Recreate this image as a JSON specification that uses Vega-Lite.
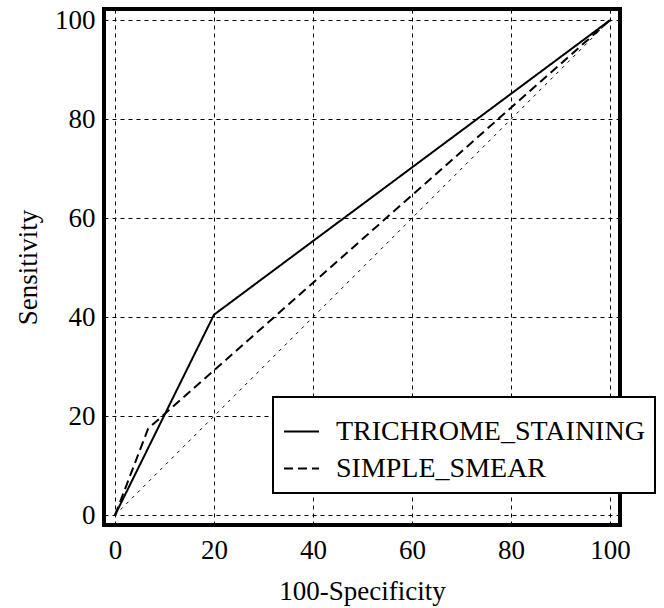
{
  "$schema": "https://vega.github.io/schema/vega-lite/v6.json",
  "width": 516,
  "height": 516,
  "autosize": {"type": "none"},
  "padding": {"left": 104, "top": 9, "right": 44, "bottom": 83},
  "background": "white",
  "config": {
    "view": {"stroke": "black", "strokeWidth": 4},
    "font": "Liberation Serif",
    "axis": {
      "labelFont": "Liberation Serif",
      "titleFont": "Liberation Serif",
      "labelFontSize": 27,
      "titleFontSize": 27,
      "titleFontWeight": "normal",
      "labelColor": "black",
      "titleColor": "black",
      "domain": false,
      "ticks": false,
      "gridColor": "black",
      "gridWidth": 1,
      "gridDash": [4, 4]
    },
    "legend": {
      "labelFont": "Liberation Serif",
      "labelFontSize": 28,
      "labelColor": "black",
      "labelLimit": 600
    }
  },
  "datasets": {
    "roc": [
      {"series": "TRICHROME_STAINING", "fpr": 0, "sens": 0},
      {"series": "TRICHROME_STAINING", "fpr": 20, "sens": 40.5},
      {"series": "TRICHROME_STAINING", "fpr": 100, "sens": 100},
      {"series": "SIMPLE_SMEAR", "fpr": 0, "sens": 0},
      {"series": "SIMPLE_SMEAR", "fpr": 6.7, "sens": 17.5},
      {"series": "SIMPLE_SMEAR", "fpr": 100, "sens": 100}
    ],
    "diag": [
      {"fpr": 0, "sens": 0},
      {"fpr": 100, "sens": 100}
    ],
    "major": [
      {"v": 0}, {"v": 20}, {"v": 40}, {"v": 60}, {"v": 80}, {"v": 100}
    ],
    "minor": [
      {"v": 5}, {"v": 10}, {"v": 15}, {"v": 25}, {"v": 30}, {"v": 35},
      {"v": 45}, {"v": 50}, {"v": 55}, {"v": 65}, {"v": 70}, {"v": 75},
      {"v": 85}, {"v": 90}, {"v": 95}
    ]
  },
  "encoding": {
    "x": {
      "field": "fpr", "type": "quantitative",
      "scale": {"domain": [-2.22, 102.02], "nice": false, "zero": false},
      "axis": {
        "title": "100-Specificity",
        "values": [0, 20, 40, 60, 80, 100],
        "labelPadding": 12,
        "titlePadding": 15,
        "labelOverlap": false,
        "labelFlush": false
      }
    },
    "y": {
      "field": "sens", "type": "quantitative",
      "scale": {"domain": [-1.98, 102.26], "nice": false, "zero": false},
      "axis": {
        "title": "Sensitivity",
        "values": [0, 20, 40, 60, 80, 100],
        "labelPadding": 9,
        "titlePadding": 12,
        "labelOverlap": false,
        "labelFlush": false
      }
    }
  },
  "layer": [
    {
      "data": {"name": "diag"},
      "mark": {"type": "line", "color": "black", "strokeWidth": 1, "strokeDash": [3, 5]},
      "encoding": {}
    },
    {
      "data": {"name": "major"},
      "mark": {"type": "rule", "color": "black", "strokeWidth": 2},
      "encoding": {
        "x": {"field": "v", "type": "quantitative", "title": "100-Specificity"},
        "y": {"datum": -1.98},
        "y2": {"datum": -0.36}
      }
    },
    {
      "data": {"name": "minor"},
      "mark": {"type": "rule", "color": "black", "strokeWidth": 2},
      "encoding": {
        "x": {"field": "v", "type": "quantitative", "title": "100-Specificity"},
        "y": {"datum": -1.98},
        "y2": {"datum": -1.17}
      }
    },
    {
      "data": {"name": "major"},
      "mark": {"type": "rule", "color": "black", "strokeWidth": 2},
      "encoding": {
        "y": {"field": "v", "type": "quantitative", "title": "Sensitivity"},
        "x": {"datum": -2.22},
        "x2": {"datum": -0.6}
      }
    },
    {
      "data": {"name": "minor"},
      "mark": {"type": "rule", "color": "black", "strokeWidth": 2},
      "encoding": {
        "y": {"field": "v", "type": "quantitative", "title": "Sensitivity"},
        "x": {"datum": -2.22},
        "x2": {"datum": -1.41}
      }
    },
    {
      "data": {"name": "roc"},
      "mark": {"type": "line", "color": "black", "strokeWidth": 2},
      "encoding": {
        "strokeDash": {
          "field": "series", "type": "nominal",
          "scale": {"domain": ["TRICHROME_STAINING", "SIMPLE_SMEAR"], "range": [[1, 0], [9, 5]]},
          "legend": {
            "title": " ",
            "titleFontSize": 4,
            "titlePadding": 2,
            "orient": "none",
            "legendX": 169,
            "legendY": 388,
            "fillColor": "white",
            "strokeColor": "black",
            "padding": 10,
            "rowPadding": 4,
            "symbolType": "stroke",
            "symbolSize": 1225,
            "symbolStrokeWidth": 2,
            "symbolStrokeColor": "black",
            "labelOffset": 16,
            "encode": {"legend": {"update": {"strokeWidth": {"value": 2}}}}
          }
        }
      }
    }
  ]
}
